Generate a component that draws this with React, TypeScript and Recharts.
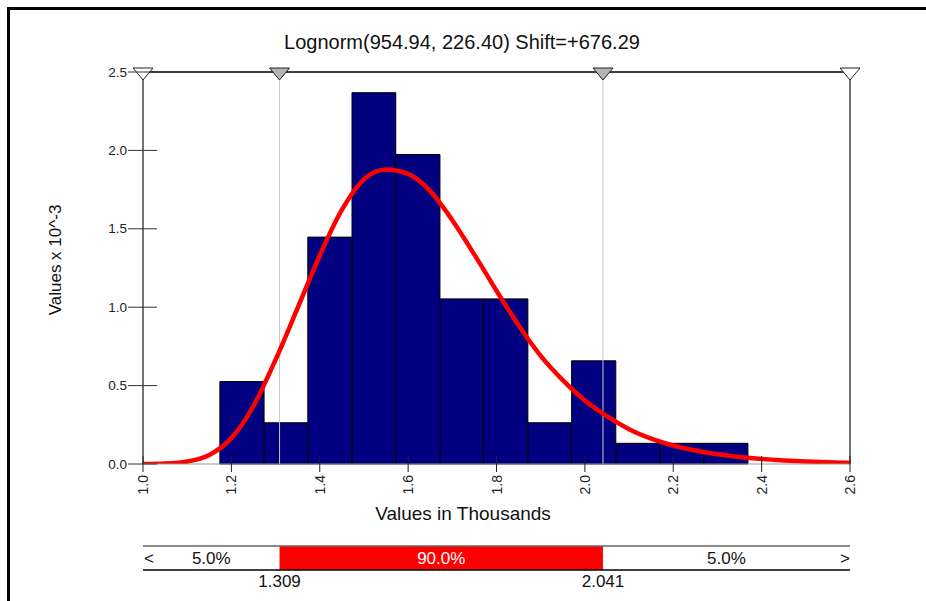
import {
  ComposedChart,
  Line,
  XAxis,
  YAxis,
  ReferenceArea,
  ReferenceLine,
  ReferenceDot,
} from 'recharts';

// histogram bins (values in thousands) and density (x 10^-3)
const binEdges = [1.174, 1.274, 1.373, 1.473, 1.572, 1.672, 1.771, 1.871, 1.97, 2.07, 2.17, 2.269, 2.369];
const binDensity = [0.526, 0.263, 1.447, 2.368, 1.974, 1.053, 1.053, 0.263, 0.658, 0.132, 0.132, 0.132];

// fitted lognormal curve
const curveX = [
  1.0, 1.05, 1.1, 1.15, 1.2, 1.25, 1.3, 1.35, 1.4, 1.45, 1.5, 1.55, 1.6, 1.65, 1.7, 1.75, 1.8,
  1.85, 1.9, 1.95, 2.0, 2.05, 2.1, 2.15, 2.2, 2.25, 2.3, 2.35, 2.4, 2.45, 2.5, 2.55, 2.6,
];
const curveY = [
  0.0, 0.003, 0.016, 0.058, 0.165, 0.37, 0.665, 0.995, 1.33, 1.62, 1.815, 1.878, 1.85, 1.74,
  1.555, 1.335, 1.105, 0.885, 0.69, 0.535, 0.405, 0.305, 0.222, 0.162, 0.118, 0.086, 0.062,
  0.045, 0.032, 0.023, 0.016, 0.011, 0.008,
];

const xTicks = [1.0, 1.2, 1.4, 1.6, 1.8, 2.0, 2.2, 2.4, 2.6];
const yTicks = [0, 0.5, 1.0, 1.5, 2.0, 2.5];

const rangeEnds = [1.0, 2.6];
const percentiles = [1.309, 2.041];
const pctEdges = [1.0, 1.309, 2.041, 2.6];
const pctLabels = ['5.0%', '90.0%', '5.0%'];

const curveData = curveX.map((x, i) => ({ x, d: curveY[i] }));
const pctData = pctEdges.map((x) => ({ x, level: 0.5 }));

const W = 926;
const H = 601;
const PLOT_LEFT = 143;
const PLOT_RIGHT = 850;
const PLOT_TOP = 72;
const PLOT_BOTTOM = 464;
const FONT = '"Liberation Sans", Arial, sans-serif';

const XTick = (props: any) => {
  const { x, payload } = props;
  const ty = PLOT_BOTTOM + 11;
  return (
    <g>
      <line x1={x} x2={x} y1={PLOT_BOTTOM - 8} y2={PLOT_BOTTOM + 8} stroke="#222" />
      <text
        x={x}
        y={ty}
        transform={`rotate(-90 ${x} ${ty})`}
        textAnchor="end"
        dominantBaseline="central"
        fontSize={14}
        fontFamily={FONT}
        fill="#222"
      >
        {Number(payload.value).toFixed(1)}
      </text>
    </g>
  );
};

const YTick = (props: any) => {
  const { y, payload } = props;
  return (
    <g>
      <line x1={PLOT_LEFT - 15} x2={PLOT_LEFT + 14} y1={y} y2={y} stroke="#333" />
      <text
        x={PLOT_LEFT - 16}
        y={y}
        textAnchor="end"
        dominantBaseline="central"
        fontSize={13.5}
        fontFamily={FONT}
        fill="#222"
      >
        {Number(payload.value).toFixed(1)}
      </text>
    </g>
  );
};

const triangle = (fill: string) => (props: any) => {
  const { cx, cy } = props;
  return (
    <path
      d={`M${cx - 10},${cy - 4} L${cx + 10},${cy - 4} L${cx},${cy + 8} Z`}
      fill={fill}
      stroke="#222"
      strokeWidth={1}
    />
  );
};

const barText = (text: string, color: string, dx: number, dy: number, useCenter: boolean) => (p: any) => {
  const vb = p.viewBox;
  const cx = useCenter ? vb.x + vb.width / 2 : vb.x;
  const cy = dy === 0 ? vb.y + vb.height / 2 : vb.y + vb.height + dy;
  return (
    <text
      x={cx + dx}
      y={cy}
      textAnchor="middle"
      dominantBaseline="central"
      fontSize={17}
      fontFamily={FONT}
      fill={color}
    >
      {text}
    </text>
  );
};

export default function App() {
  return (
    <div style={{ position: 'absolute', left: 0, top: 0, width: W, height: H, background: '#fff', overflow: 'hidden' }}>
      <div
        style={{
          position: 'absolute',
          left: 0,
          top: 30,
          width: 924,
          textAlign: 'center',
          fontFamily: FONT,
          fontSize: 20,
          lineHeight: '24px',
          color: '#111',
        }}
      >
        Lognorm(954.94, 226.40) Shift=+676.29
      </div>

      <div style={{ position: 'absolute', left: 0, top: 0 }}>
        <ComposedChart
          width={W}
          height={H - 60}
          data={curveData}
          margin={{ top: PLOT_TOP, right: W - PLOT_RIGHT, left: PLOT_LEFT - 60, bottom: H - 60 - PLOT_BOTTOM - 40 }}
        >
          <XAxis
            dataKey="x"
            type="number"
            domain={[1.0, 2.6]}
            ticks={xTicks}
            interval={0}
            height={40}
            allowDataOverflow
            axisLine={{ stroke: '#999' }}
            tickLine={false}
            tick={<XTick />}
          />
          <YAxis
            type="number"
            domain={[0, 2.5]}
            ticks={yTicks}
            interval={0}
            width={60}
            allowDataOverflow
            axisLine={{ stroke: '#444', strokeWidth: 1.5 }}
            tickLine={false}
            tick={<YTick />}
          />
          {binDensity.map((d, i) => (
            <ReferenceArea
              key={i}
              x1={binEdges[i]}
              x2={binEdges[i + 1]}
              y1={0}
              y2={d}
              fill="#000080"
              fillOpacity={1}
              stroke="#000"
              strokeWidth={1}
            />
          ))}
          <ReferenceLine y={2.5} stroke="#000" strokeWidth={1.5} />
          <ReferenceLine x={2.6} stroke="#444" strokeWidth={1.5} />
          {percentiles.map((p) => (
            <ReferenceLine key={p} x={p} stroke="#c8c8c8" strokeWidth={1} />
          ))}
          <Line
            dataKey="d"
            type="monotone"
            stroke="#ff0000"
            strokeWidth={4.5}
            dot={false}
            activeDot={false}
            isAnimationActive={false}
          />
          {rangeEnds.map((p) => (
            <ReferenceDot key={p} x={p} y={2.5} r={8} ifOverflow="visible" shape={triangle('#fff')} />
          ))}
          {percentiles.map((p) => (
            <ReferenceDot key={p} x={p} y={2.5} r={8} ifOverflow="visible" shape={triangle('#b4b4b4')} />
          ))}
        </ComposedChart>
        <svg
          width={W}
          height={H}
          style={{ position: 'absolute', left: 0, top: 0, pointerEvents: 'none' }}
        >
          <rect x={7} y={7} width={W - 7} height={3} fill="#000" />
          <rect x={7} y={7} width={3} height={H - 7} fill="#000" />
          <text
            x={55}
            y={260}
            transform="rotate(-90 55 260)"
            textAnchor="middle"
            dominantBaseline="central"
            fontSize={17}
            fontFamily={FONT}
            fill="#111"
          >
            Values x 10^-3
          </text>
          <text
            x={463}
            y={513}
            textAnchor="middle"
            dominantBaseline="central"
            fontSize={19}
            fontFamily={FONT}
            fill="#111"
          >
            Values in Thousands
          </text>
        </svg>
      </div>

      <div style={{ position: 'absolute', left: 0, top: 530 }}>
        <ComposedChart
          width={W}
          height={71}
          data={pctData}
          margin={{ top: 16, right: W - PLOT_RIGHT, left: PLOT_LEFT, bottom: 31 }}
        >
          <XAxis dataKey="x" type="number" domain={[1.0, 2.6]} hide allowDataOverflow />
          <YAxis type="number" domain={[0, 1]} hide allowDataOverflow />
          <Line dataKey="level" stroke="none" dot={false} activeDot={false} isAnimationActive={false} />
          {pctLabels.map((lab, i) => (
            <ReferenceArea
              key={i}
              x1={pctEdges[i]}
              x2={pctEdges[i + 1]}
              y1={0}
              y2={1}
              fill={i === 1 ? '#ff0000' : '#fff'}
              fillOpacity={1}
              stroke="none"
              label={barText(lab, i === 1 ? '#fff' : '#111', 0, 0, true)}
            />
          ))}
          <ReferenceLine y={1} stroke="#666" strokeWidth={1.5} />
          <ReferenceLine y={0} stroke="#000" strokeWidth={1.5} />
          {rangeEnds.map((p, i) => (
            <ReferenceLine
              key={p}
              x={p}
              stroke="none"
              label={barText(i === 0 ? '<' : '>', '#111', i === 0 ? 6 : -5, 0, false)}
            />
          ))}
          {percentiles.map((p) => (
            <ReferenceLine key={p} x={p} stroke="none" label={barText(p.toFixed(3), '#111', 0, 11, false)} />
          ))}
        </ComposedChart>
      </div>
    </div>
  );
}
